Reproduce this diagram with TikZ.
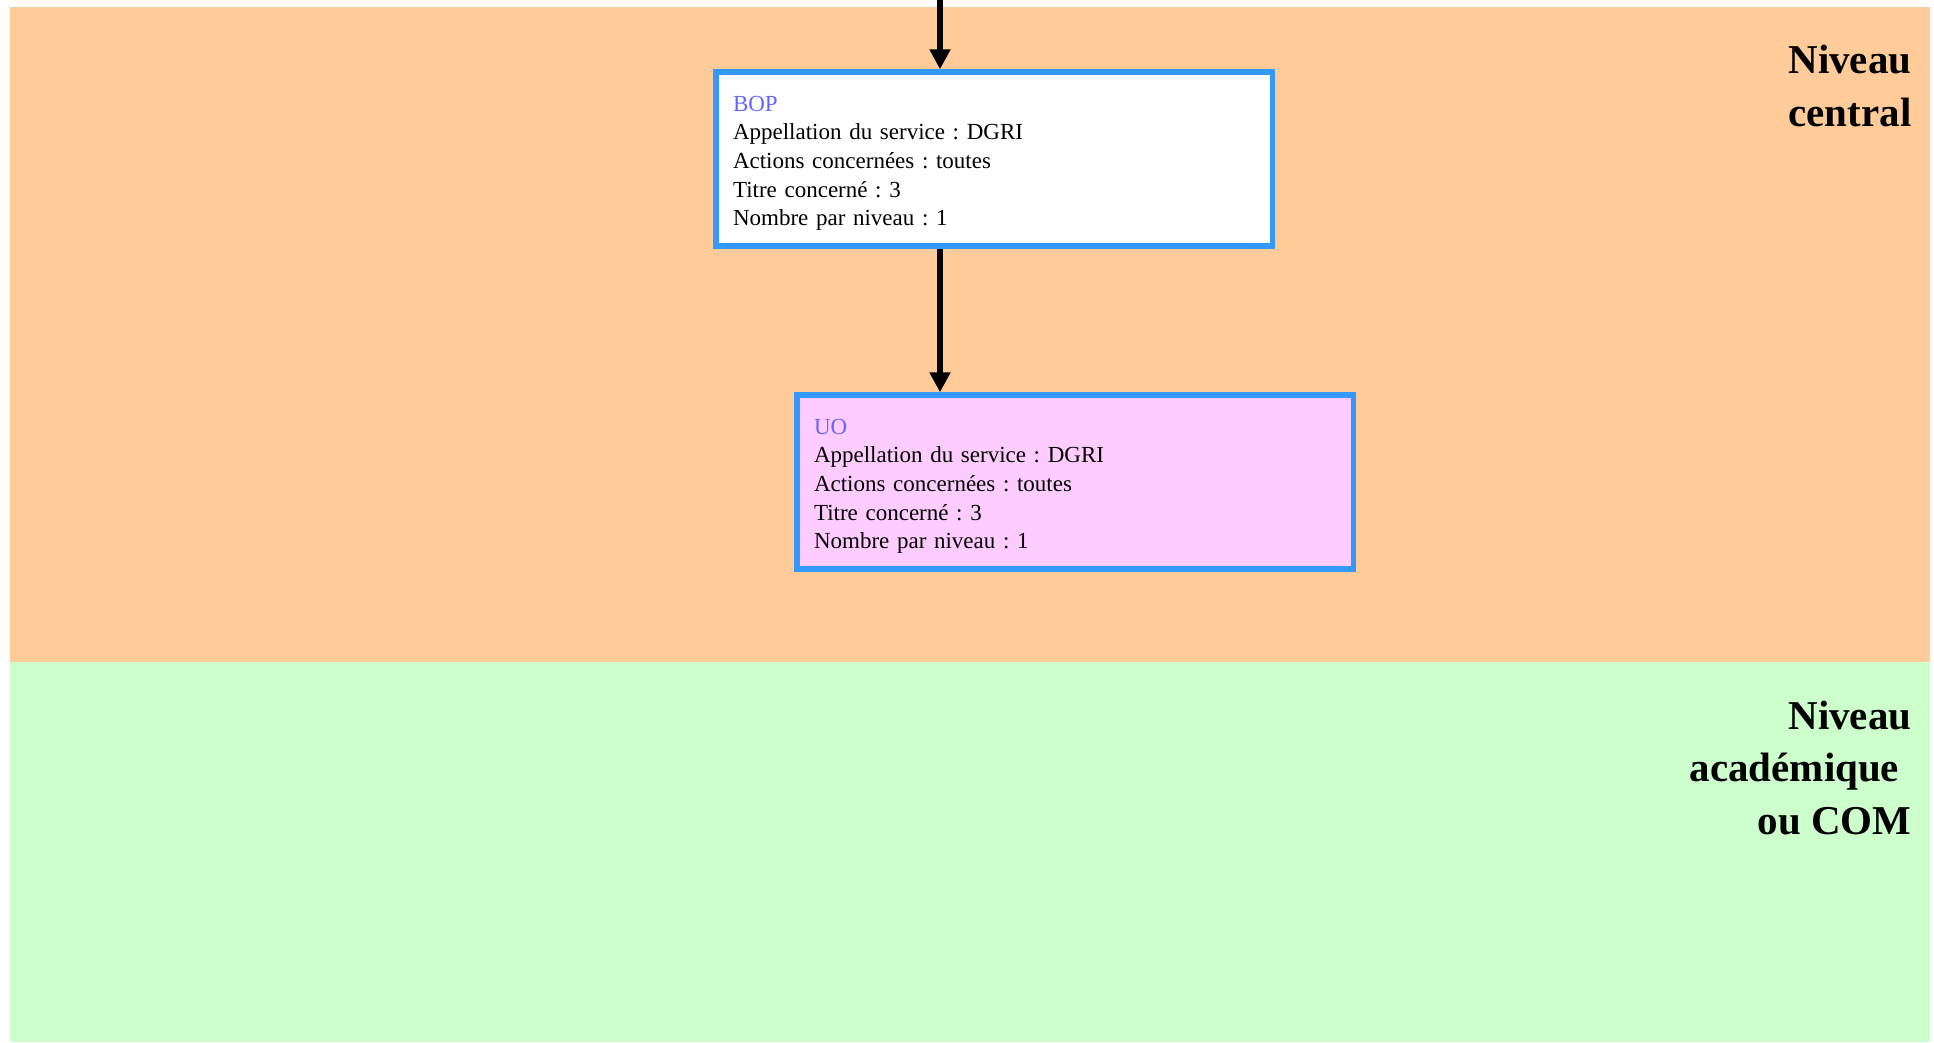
\documentclass[tikz,border=0pt]{standalone}
\usepackage{fontspec}
\setmainfont{Liberation Serif}
\usetikzlibrary{arrows.meta}
\definecolor{central}{HTML}{FFCC99}
\definecolor{academ}{HTML}{CCFFCC}
\definecolor{uofill}{HTML}{FFCCFF}
\definecolor{frame}{HTML}{3399FF}
\definecolor{titre}{HTML}{6666FF}
\frenchspacing

\begin{document}
\begin{tikzpicture}[x=1pt, y=-1pt, flow/.style={-{Triangle[length=20pt, width=20pt]}, line width=6pt}, box/.style={draw=frame, line width=5.5pt, text width=522pt, minimum height=174pt, inner xsep=17.25pt, align=left, font=\fontsize{23}{28.7}\selectfont}, level/.style={anchor=base east, align=right, font=\fontsize{41}{52.5}\selectfont\bfseries}]

\useasboundingbox (0,0) rectangle (1934,1042);
\fill[central] (10,7) rectangle (1930,662);
\fill[academ] (10,662) rectangle (1930,1042);

\node[level] (lvlcentral) at (1915,126) {Niveau\\central};
\node[level] (lvlacad) at (1915,834) {Niveau\\académique\kern.3em\\ou COM};

\node[box, fill=white] (bop) at (994,159) {\rule{0pt}{24pt}\textcolor{titre}{BOP}\\Appellation du service : DGRI\\Actions concernées : toutes\\Titre concerné : 3\\Nombre par niveau : 1};
\node[box, fill=uofill] (uo) at (1075,482) {\rule{0pt}{24pt}\textcolor{titre}{UO}\\Appellation du service : DGRI\\Actions concernées : toutes\\Titre concerné : 3\\Nombre par niveau : 1};

\coordinate (in) at (940,0);
\draw[flow] (in) -- (in |- bop.north);
\draw[flow] (in |- bop.south) -- (in |- uo.north);
\end{tikzpicture}
\end{document}
